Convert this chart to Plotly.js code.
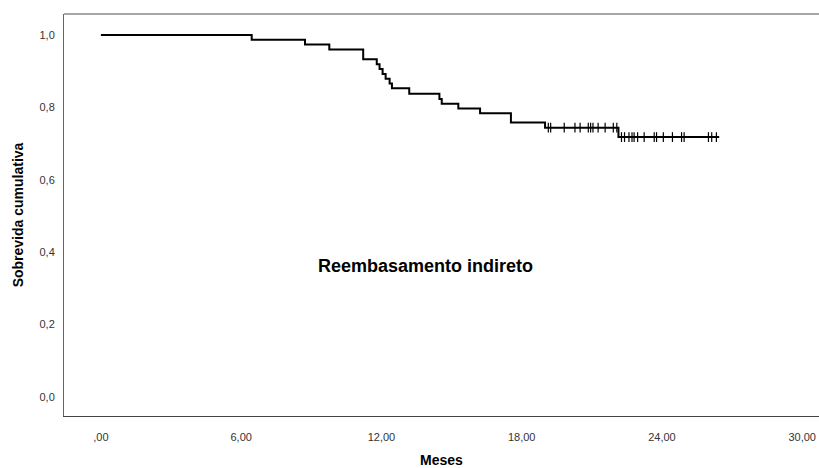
<!DOCTYPE html>
<html>
<head>
<meta charset="utf-8">
<script src="https://cdn.plot.ly/plotly-3.0.1.min.js"></script>
<style>html,body{margin:0;padding:0;background:#fff;}#chart{width:819px;height:468px;}</style>
</head>
<body>
<div id="chart"></div>
<script>
// Kaplan-Meier steps (months, cumulative survival after the event)
var eventTimes = [0, 6.45, 8.73, 9.77, 11.22, 11.80, 11.92, 12.05, 12.18, 12.35, 12.45, 13.19, 14.48, 14.58, 15.29, 16.22, 17.54, 19.00, 22.14];
var survival   = [1.0, 0.987, 0.974, 0.960, 0.933, 0.919, 0.906, 0.892, 0.879, 0.866, 0.853, 0.838, 0.823, 0.810, 0.797, 0.784, 0.758, 0.744, 0.718];
var lastTime = 26.45;
// Censored observations (months)
var censorTimes = [19.14, 19.24, 19.82, 20.28, 20.50, 20.85, 20.95, 21.05, 21.27, 21.57, 21.92, 22.07,
                   22.27, 22.40, 22.59, 22.72, 22.81, 22.96, 23.24, 23.67, 23.77, 24.06, 24.45, 24.84, 24.95, 25.99, 26.13, 26.33];
var xTickVals = [0, 6, 12, 18, 24, 30];
var xTickText = [",00", "6,00", "12,00", "18,00", "24,00", "30,00"];
var yTickVals = [0, 0.2, 0.4, 0.6, 0.8, 1.0];
var yTickText = ["0,0", "0,2", "0,4", "0,6", "0,8", "1,0"];
var groupLabel = "Reembasamento indireto";

function survAt(t) {
  var s = survival[0];
  for (var i = 0; i < eventTimes.length; i++) { if (eventTimes[i] <= t) s = survival[i]; }
  return s;
}
var lineX = eventTimes.concat([lastTime]);
var lineY = survival.concat([survival[survival.length - 1]]);
var censorY = censorTimes.map(survAt);

var traces = [
  {x: lineX, y: lineY, type: 'scatter', mode: 'lines', line: {shape: 'hv', color: '#000', width: 2}, hoverinfo: 'skip'},
  {x: censorTimes, y: censorY, type: 'scatter', mode: 'markers',
   marker: {symbol: 'line-ns-open', size: 7, color: '#000', line: {color: '#000', width: 1.2}}, hoverinfo: 'skip'}
];
var fontFam = 'Liberation Sans, Arial, sans-serif';
var layout = {
  width: 819, height: 468,
  margin: {l: 64, r: 0, t: 14, b: 52},
  paper_bgcolor: '#fff', plot_bgcolor: '#fff',
  showlegend: false,
  font: {family: fontFam, size: 11, color: '#333'},
  xaxis: {
    range: [-1.58, 30.72], tickvals: xTickVals, ticktext: xTickText,
    showgrid: false, zeroline: false, showline: true, linecolor: '#444', linewidth: 1,
    ticks: '', ticklabelstandoff: 11,
    tickfont: {family: fontFam, size: 11, color: '#333'},
    title: {text: 'Meses', font: {family: fontFam, size: 14, color: '#000', weight: 'bold'}, standoff: 12}
  },
  yaxis: {
    range: [-0.0525, 1.058], tickvals: yTickVals, ticktext: yTickText,
    showgrid: false, zeroline: false, showline: true, linecolor: '#666', linewidth: 1,
    ticks: '', ticklabelstandoff: 6,
    tickfont: {family: fontFam, size: 11, color: '#333'},
    title: {text: 'Sobrevida cumulativa', font: {family: fontFam, size: 14, color: '#000', weight: 'bold'}, standoff: 12}
  },
  shapes: [
    {type: 'line', xref: 'paper', yref: 'paper', x0: 0, x1: 1, y0: 1, y1: 1, line: {color: '#888', width: 1.5}}
  ],
  annotations: [
    {text: groupLabel, x: 13.9, y: 0.362, xref: 'x', yref: 'y', showarrow: false,
     font: {family: fontFam, size: 18, color: '#000', weight: 'bold'}}
  ]
};
Plotly.newPlot('chart', traces, layout, {staticPlot: true, displayModeBar: false});
</script>
</body>
</html>
